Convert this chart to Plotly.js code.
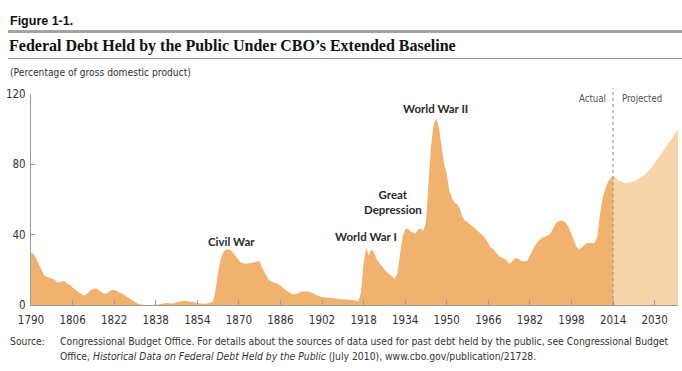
<!DOCTYPE html>
<html><head><meta charset="utf-8">
<script src="https://cdn.plot.ly/plotly-3.0.1.min.js"></script>
<style>html,body{margin:0;padding:0;background:#fff;} #chart{width:682px;height:371px;}</style>
</head><body><div id="chart"></div>
<script>
// ---- Data (percentage of GDP) ----
const actualYears = [1790,1791,1792,1793,1794,1795,1796,1797,1798,1799,1800,1801,1802,1803,1804,1805,1806,1807,1808,1809,
1810,1811,1812,1813,1814,1815,1816,1817,1818,1819,1820,1821,1822,1823,1824,1825,1826,1827,1828,1829,
1830,1831,1832,1833,1834,1835,1836,1837,1838,1839,1840,1841,1842,1843,1844,1845,1846,1847,1848,1849,
1850,1851,1852,1853,1854,1855,1856,1857,1858,1859,1860,1861,1862,1863,1864,1865,1866,1867,1868,1869,
1870,1871,1872,1873,1874,1875,1876,1877,1878,1879,1880,1881,1882,1883,1884,1885,1886,1887,1888,1889,
1890,1891,1892,1893,1894,1895,1896,1897,1898,1899,1900,1901,1902,1903,1904,1905,1906,1907,1908,1909,
1910,1911,1912,1913,1914,1915,1916,1917,1918,1919,1920,1921,1922,1923,1924,1925,1926,1927,1928,1929,
1930,1931,1932,1933,1934,1935,1936,1937,1938,1939,1940,1941,1942,1943,1944,1945,1946,1947,1948,1949,
1950,1951,1952,1953,1954,1955,1956,1957,1958,1959,1960,1961,1962,1963,1964,1965,1966,1967,1968,1969,
1970,1971,1972,1973,1974,1975,1976,1977,1978,1979,1980,1981,1982,1983,1984,1985,1986,1987,1988,1989,
1990,1991,1992,1993,1994,1995,1996,1997,1998,1999,2000,2001,2002,2003,2004,2005,2006,2007,2008,2009,
2010,2011,2012,2013,2014];
const actualDebt = [30,29,26.5,23.5,20,17,16,15.5,15,14.5,13,13,13.5,13.5,12,11.5,10,9,8,7,
5.5,5.5,7,8.5,9,9.5,8.5,7.5,6.5,6.5,7.5,8.5,8.5,8,7,6.5,5.5,4.5,3.5,2.5,
1.5,0.8,0.3,0,0,0,0,0.1,0.2,0.3,0.5,0.8,1.2,1,0.8,0.9,1.5,2,2.3,2.4,
2.3,2.1,2,1.6,1,0.8,0.7,0.7,1,1.3,1.8,8,19,26,30,31.5,31.5,31,29.5,27.5,
25.5,24,23.5,23.5,23.8,24,24.2,24.5,25,21,18,15.5,13.5,13,12.5,12,11,9.5,8.5,7.5,
6.5,6,6.2,7,7.5,7.8,7.8,7.6,7,6.2,5.5,5,4.6,4.3,4.1,4,4,3.6,3.5,3.4,
3.3,3.1,3,2.7,2.6,2.5,2.2,7,24,32.5,28,31.5,30,26,24,22,20,18.5,17.5,16,
15,18,29,39,43,43.5,42,41,40.5,43,43.5,42,47,70,91,103,106,101,91,80,
75,65,61,58,57.5,55,50,48,47,46,44.5,43.5,42,41,39.5,37.5,35,32.5,31.8,29.5,
27.8,27,26.5,25.5,23.5,24.5,26.5,26.8,26,24.8,25,25,28,31.5,34,36,37.5,38.5,39,39.5,
41,44,46.5,47.7,48,47.8,46.5,44,40.5,37,33,31.5,32.5,34,35.3,35.5,35.3,35.2,39.5,52,
61,66,70,72,73.3];
const projectedYears = [2014,2015,2016,2017,2018,2019,2020,2021,2022,2023,2024,2025,2026,2027,2028,2029,2030,2031,2032,2033,2034,2035,2036,2037,2038,2039];
const projectedDebt = [73.3,72.5,71,70,69.5,69.3,69.5,69.8,70.3,71,71.8,72.8,74,75.3,76.8,78.5,80.5,82.5,84.5,86.5,88.7,91,93.2,95.3,97.5,100];
const xTickYears = [1790,1806,1822,1838,1854,1870,1886,1902,1918,1934,1950,1966,1982,1998,2014,2030];
const yTickValues = [0,40,80,120];

// ---- Layout helpers ----
const W = 682, H = 371;
const M = {l: 31, r: 4, t: 94, b: 66};
const PW = W - M.l - M.r, PH = H - M.t - M.b;
const px = p => (p - M.l) / PW;
const py = q => (H - M.b - q) / PH;

const NARROW = '"Liberation Sans Narrow", "DejaVu Sans Condensed", "Arial Narrow", sans-serif';
const TXT = '#333333';

const traces = [
  {x: actualYears, y: actualDebt, type: 'scatter', mode: 'lines', fill: 'tozeroy',
   line: {width: 0, color: 'rgb(241,178,112)'}, fillcolor: 'rgb(241,178,112)', hoverinfo: 'skip', showlegend: false},
  {x: projectedYears, y: projectedDebt, type: 'scatter', mode: 'lines', fill: 'tozeroy',
   line: {width: 0, color: 'rgb(248,212,170)'}, fillcolor: 'rgb(248,212,170)', hoverinfo: 'skip', showlegend: false}
];

const ann = (text, x, y, opts) => Object.assign({text, x, y, showarrow: false}, opts);
const paperAnn = (text, xp, yp, font, xanchor) => ann(text, px(xp), py(yp), {xref: 'paper', yref: 'paper', xanchor: xanchor || 'left', yanchor: 'middle', font, align: 'left'});
const eventFont = {family: 'Lato, "DejaVu Sans Condensed", sans-serif', size: 11.5, color: '#2b2b2b'};

const layout = {
  width: W, height: H,
  margin: M,
  paper_bgcolor: '#ffffff', plot_bgcolor: '#ffffff',
  showlegend: false,
  xaxis: {
    range: [1790, 2039], tickmode: 'array', tickvals: xTickYears, ticktext: xTickYears.map(String),
    showgrid: false, zeroline: false, showline: true, linecolor: '#9a9a9a', linewidth: 1,
    ticks: 'inside', ticklen: 5, tickcolor: '#9a9a9a', tickwidth: 1,
    tickfont: {family: NARROW, size: 11.5, color: TXT}, ticklabelstandoff: 4, fixedrange: true
  },
  yaxis: {
    range: [0, 120], tickmode: 'array', tickvals: yTickValues, ticktext: yTickValues.map(String),
    showgrid: false, zeroline: false, showline: true, linecolor: '#9a9a9a', linewidth: 1,
    ticks: 'inside', ticklen: 4, tickcolor: '#9a9a9a', tickwidth: 1,
    tickfont: {family: NARROW, size: 11.5, color: TXT}, ticklabelstandoff: 2, fixedrange: true
  },
  shapes: [
    {type: 'line', xref: 'x', yref: 'paper', x0: 2014, x1: 2014, y0: 0, y1: py(88), line: {color: '#8a8a8a', width: 1, dash: 'dot'}},
    {type: 'line', xref: 'paper', yref: 'paper', x0: px(8), x1: px(682), y0: py(31.5), y1: py(31.5), line: {color: '#a3a3a3', width: 3}},
    {type: 'line', xref: 'paper', yref: 'paper', x0: px(8), x1: px(682), y0: py(58.5), y1: py(58.5), line: {color: '#8c8c8c', width: 1.2}}
  ],
  annotations: [
    paperAnn('<b>Figure 1-1.</b>', 8, 21, {family: '"Liberation Sans", Arial, sans-serif', size: 12.5, color: '#111'}),
    paperAnn('<b>Federal Debt Held by the Public Under CBO\u2019s Extended Baseline</b>', 7, 46, {family: '"Liberation Serif", "DejaVu Serif", serif', size: 16, color: '#111'}),
    paperAnn('(Percentage of gross domestic product)', 8, 72, {family: NARROW, size: 10.2, color: TXT}),
    paperAnn('Actual', 608, 98, {family: NARROW, size: 9.6, color: '#555'}, 'right'),
    paperAnn('Projected', 620, 98, {family: NARROW, size: 9.6, color: '#555'}),
    ann('<b>Civil War</b>', 1867, 36.3, {font: eventFont}),
    ann('<b>World War I</b>', 1919, 39, {font: eventFont}),
    ann('<b>Great<br>Depression</b>', 1929.5, 58.3, {font: eventFont}),
    ann('<b>World War II</b>', 1945.5, 112, {font: eventFont}),
    paperAnn('Source:', 8, 341, {family: NARROW, size: 10.3, color: TXT}),
    paperAnn('Congressional Budget Office. For details about the sources of data used for past debt held by the public, see Congressional Budget', 58, 341, {family: NARROW, size: 10.3, color: TXT}),
    paperAnn('Office, <i>Historical Data on Federal Debt Held by the Public</i> (July 2010), www.cbo.gov/publication/21728.', 58, 356, {family: NARROW, size: 10.3, color: TXT})
  ]
};

Plotly.newPlot('chart', traces, layout, {staticPlot: true, displayModeBar: false});
</script>
</body></html>
